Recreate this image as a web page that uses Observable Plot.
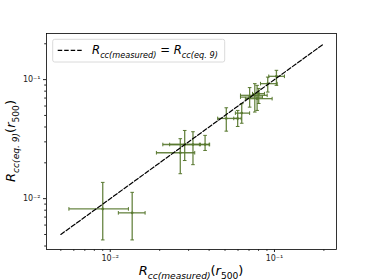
<!DOCTYPE html>
<html><head><meta charset="utf-8">
<script src="https://cdn.jsdelivr.net/npm/d3@7"></script>
<script src="https://cdn.jsdelivr.net/npm/@observablehq/plot@0.6"></script>
<style>body{margin:0;background:#fff}svg{display:block}</style>
</head><body><div id="chart"></div>
<script>
// Data
const xMeasured = [0.0090, 0.0136, 0.0267, 0.0284, 0.0319, 0.0378, 0.0509, 0.0597, 0.0632, 0.0706, 0.0759, 0.0784, 0.0802, 0.0910, 0.1028];
const yEq9      = [0.0082, 0.0076, 0.0243, 0.0285, 0.0285, 0.0285, 0.0472, 0.0472, 0.0523, 0.0713, 0.0738, 0.0692, 0.0762, 0.0925, 0.1066];
const xLow      = [0.0056, 0.0112, 0.0191, 0.0209, 0.0230, 0.0349, 0.0451, 0.0565, 0.0578, 0.0621, 0.0621, 0.0665, 0.0735, 0.0822, 0.0923];
const xHigh     = [0.0129, 0.0163, 0.0327, 0.0354, 0.0400, 0.0403, 0.0597, 0.0627, 0.0706, 0.0845, 0.0903, 0.0968, 0.0869, 0.1039, 0.1150];
const yLow      = [0.0045, 0.0045, 0.0162, 0.0209, 0.0193, 0.0254, 0.0369, 0.0404, 0.0430, 0.0587, 0.0534, 0.0551, 0.0630, 0.0786, 0.0895];
const yHigh     = [0.0137, 0.0113, 0.0319, 0.0374, 0.0365, 0.0340, 0.0580, 0.0551, 0.0628, 0.0857, 0.0925, 0.0895, 0.0843, 0.1050, 0.1197];
const lineX = [0.005, 0.2];
const lineY = [0.005, 0.2];
const majorTicks = [0.01, 0.1];
const majorLabels = ["10\u207B\u00B2", "10\u207B\u00B9"];
const minorTicksX = [0.005, 0.006, 0.007, 0.008, 0.009, 0.02, 0.03, 0.04, 0.05, 0.06, 0.07, 0.08, 0.09, 0.2];
const minorTicksY = [0.004, 0.005, 0.006, 0.007, 0.008, 0.009, 0.02, 0.03, 0.04, 0.05, 0.06, 0.07, 0.08, 0.09, 0.2];

const data = xMeasured.map((x, i) => ({x, y: yEq9[i], xlo: xLow[i], xhi: xHigh[i], ylo: yLow[i], yhi: yHigh[i]}));
const lineData = lineX.map((x, i) => ({x, y: lineY[i]}));
const labelMap = new Map(majorTicks.map((t, i) => [t, majorLabels[i]]));

const col = "#58782f";
const capV = {draw(ctx, size){const r = Math.sqrt(size/Math.PI); ctx.moveTo(0,-r); ctx.lineTo(0,r);}};
const capH = {draw(ctx, size){const r = Math.sqrt(size/Math.PI); ctx.moveTo(-r,0); ctx.lineTo(r,0);}};

const W = 374, H = 280, mL = 46, mR = 38, mT = 33, mB = 31;
const plot = Plot.plot({
  width: W, height: H, marginLeft: mL, marginRight: mR, marginTop: mT, marginBottom: mB,
  x: {type: "log", domain: [0.00409, 0.2387]},
  y: {type: "log", domain: [0.00374, 0.244]},
  style: {background: "#fff", fontFamily: "DejaVu Sans", color: "#222"},
  marks: [
    Plot.link(data, {x1: "xlo", x2: "xhi", y1: "y", y2: "y", stroke: col, strokeWidth: 1.3, strokeOpacity: 0.9}),
    Plot.link(data, {x1: "x", x2: "x", y1: "ylo", y2: "yhi", stroke: col, strokeWidth: 1.3, strokeOpacity: 0.9}),
    Plot.dot(data, {x: "xlo", y: "y", symbol: capV, r: 1.8, stroke: col, strokeWidth: 1, fill: "none"}),
    Plot.dot(data, {x: "xhi", y: "y", symbol: capV, r: 1.8, stroke: col, strokeWidth: 1, fill: "none"}),
    Plot.dot(data, {x: "x", y: "ylo", symbol: capH, r: 1.8, stroke: col, strokeWidth: 1, fill: "none"}),
    Plot.dot(data, {x: "x", y: "yhi", symbol: capH, r: 1.8, stroke: col, strokeWidth: 1, fill: "none"}),
    Plot.dot(data, {x: "x", y: "y", r: 1.3, fill: col, stroke: "none"}),
    Plot.line(lineData, {x: "x", y: "y", stroke: "black", strokeWidth: 1.2, strokeDasharray: "4.5,2"}),
    Plot.frame({stroke: "black", strokeWidth: 0.8}),
    Plot.axisX({ticks: majorTicks, tickFormat: d => labelMap.get(d), tickSize: 3, tickPadding: 3, fontSize: 8, label: null}),
    Plot.axisX({ticks: minorTicksX, tickFormat: () => "", tickSize: 1.8, label: null}),
    Plot.axisY({ticks: majorTicks, tickFormat: d => labelMap.get(d), tickSize: 3, tickPadding: 3, fontSize: 8, label: null}),
    Plot.axisY({ticks: minorTicksY, tickFormat: () => "", tickSize: 1.8, label: null})
  ]
});
document.getElementById("chart").appendChild(plot);

const svg = d3.select(plot);
function mathText(g, segs, size, anchor) {
  const t = g.append("text").attr("font-family", "DejaVu Sans").attr("font-size", size)
    .attr("fill", "black").attr("text-anchor", anchor);
  let shift = 0;
  segs.forEach(s => {
    const sp = t.append("tspan").text(s.t);
    const target = s.sub ? size * 0.3 : 0;
    if (target !== shift) { sp.attr("dy", target - shift); shift = target; }
    if (s.italic) sp.attr("font-style", "italic");
    if (s.sub) sp.attr("font-size", size * 0.7);
  });
  return t;
}
const labelSegs = [
  {t: "R", italic: true}, {t: "cc(measured)", italic: true, sub: true},
  {t: "("}, {t: "r", italic: true}, {t: "500", sub: true}, {t: ")"}
];
const yLabelSegs = [
  {t: "R", italic: true}, {t: "cc(eq. 9)", italic: true, sub: true},
  {t: "("}, {t: "r", italic: true}, {t: "500", sub: true}, {t: ")"}
];
const cx = mL + (W - mL - mR) / 2, cy = mT + (H - mT - mB) / 2;
mathText(svg.append("g").attr("transform", `translate(${cx},275)`), labelSegs, 13, "middle");
mathText(svg.append("g").attr("transform", `translate(15,${cy}) rotate(-90)`), yLabelSegs, 13, "middle");

// legend
const lg = svg.append("g");
lg.append("rect").attr("x", 52.7).attr("y", 39.3).attr("width", 172).attr("height", 22.7).attr("rx", 2)
  .attr("fill", "white").attr("fill-opacity", 0.8).attr("stroke", "#d0d0d0").attr("stroke-width", 0.8);
lg.append("line").attr("x1", 57.7).attr("x2", 81.7).attr("y1", 50.3).attr("y2", 50.3)
  .attr("stroke", "black").attr("stroke-width", 1.2).attr("stroke-dasharray", "4.5,2");
mathText(lg.append("g").attr("transform", "translate(92,54)"), [
  {t: "R", italic: true}, {t: "cc(measured)", italic: true, sub: true}, {t: " = "},
  {t: "R", italic: true}, {t: "cc(eq. 9)", italic: true, sub: true}
], 11.7, "start");
</script>
</body></html>
